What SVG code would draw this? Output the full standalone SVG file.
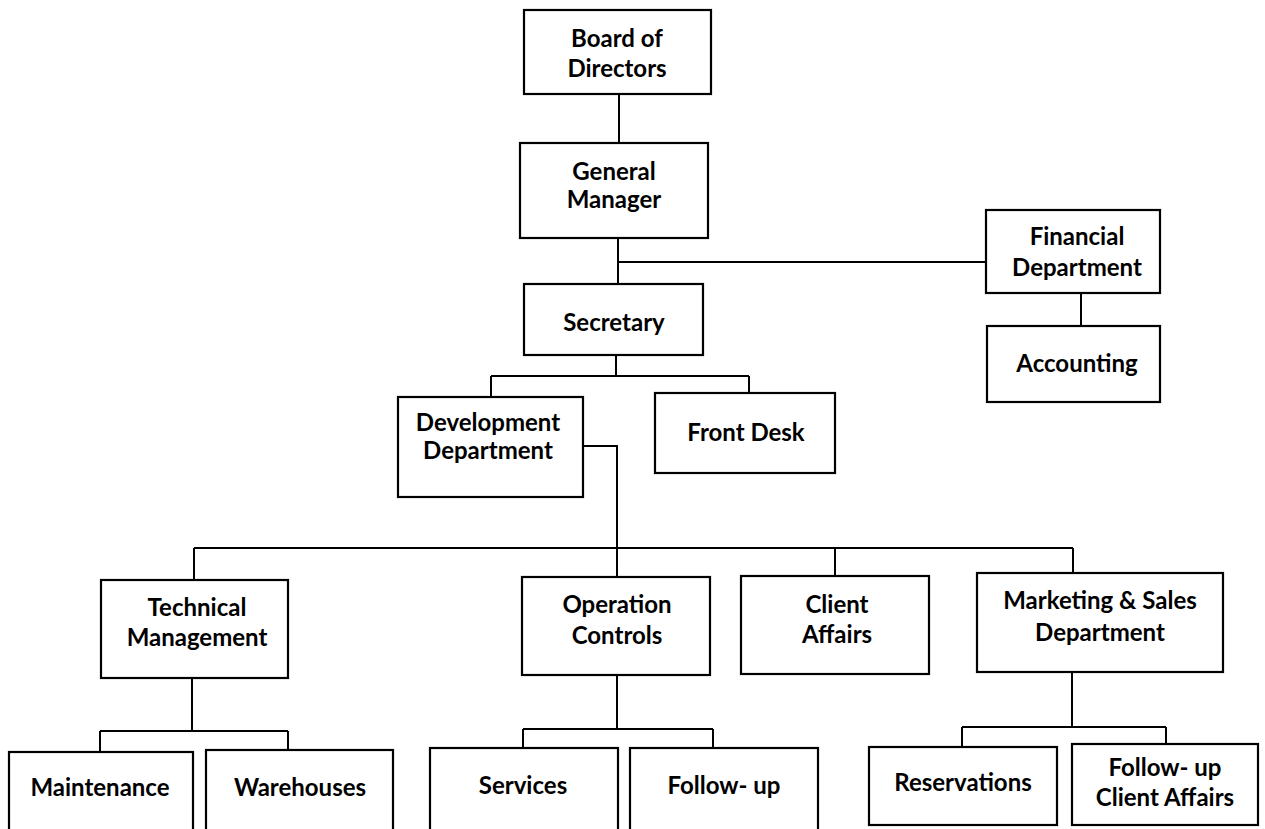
<svg xmlns="http://www.w3.org/2000/svg" width="1265" height="829" viewBox="0 0 1265 829">
<style>
.box{fill:#fff;stroke:#000;stroke-width:2.2}
.lbl{font-family:Lato,"Open Sans","Liberation Sans",sans-serif;font-weight:700;font-size:24px;fill:#000;text-anchor:middle}
.con{fill:none;stroke:#000;stroke-width:2}
</style>
<rect width="1265" height="829" fill="#fff"/>
<g id="connectors">
<path class="con" d="M619 94V143"/>
<path class="con" d="M618 238V284M618 262H986"/>
<path class="con" d="M1081 293V326"/>
<path class="con" d="M616 355V376M491 376H749M491 376V397M749 376V393"/>
<path class="con" d="M583 446H617V548M194 548H1073M194 548V580M617 548V577M835 548V576M1073 548V573"/>
<path class="con" d="M192 678V731M100 731H288M100 731V751M288 731V750"/>
<path class="con" d="M617 675V729M523 729H713M523 729V748M713 729V748"/>
<path class="con" d="M1072 672V727M962 727H1166M962 727V747M1166 727V744"/>
</g>
<g id="board"><rect class="box" x="524" y="10" width="187" height="84"/><text class="lbl" x="617" y="47">Board of</text><text class="lbl" x="617" y="77">Directors</text></g>
<g id="gm"><rect class="box" x="520" y="143" width="188" height="95"/><text class="lbl" x="614" y="180">General</text><text class="lbl" x="614" y="208">Manager</text></g>
<g id="financial"><rect class="box" x="986" y="210" width="174" height="83"/><text class="lbl" x="1077" y="245">Financial</text><text class="lbl" x="1077" y="276">Department</text></g>
<g id="accounting"><rect class="box" x="987" y="326" width="173" height="76"/><text class="lbl" x="1077" y="372">Accounting</text></g>
<g id="secretary"><rect class="box" x="524" y="284" width="179" height="71"/><text class="lbl" x="614" y="331">Secretary</text></g>
<g id="development"><rect class="box" x="398" y="397" width="185" height="100"/><text class="lbl" x="488" y="431">Development</text><text class="lbl" x="488" y="459">Department</text></g>
<g id="frontdesk"><rect class="box" x="655" y="393" width="180" height="80"/><text class="lbl" x="746" y="441">Front Desk</text></g>
<g id="technical"><rect class="box" x="101" y="580" width="187" height="98"/><text class="lbl" x="197" y="616">Technical</text><text class="lbl" x="197" y="646">Management</text></g>
<g id="operation"><rect class="box" x="522" y="577" width="188" height="98"/><text class="lbl" x="617" y="613">Operation</text><text class="lbl" x="617" y="644">Controls</text></g>
<g id="clientaffairs"><rect class="box" x="741" y="576" width="188" height="98"/><text class="lbl" x="837" y="613">Client</text><text class="lbl" x="837" y="643">Affairs</text></g>
<g id="marketing"><rect class="box" x="977" y="573" width="246" height="99"/><text class="lbl" x="1100" y="609">Marketing &amp; Sales</text><text class="lbl" x="1100" y="641">Department</text></g>
<g id="maintenance"><rect class="box" x="9" y="752" width="184" height="100"/><text class="lbl" x="100" y="796">Maintenance</text></g>
<g id="warehouses"><rect class="box" x="206" y="750" width="187" height="100"/><text class="lbl" x="300" y="796">Warehouses</text></g>
<g id="services"><rect class="box" x="430" y="748" width="188" height="100"/><text class="lbl" x="523" y="794">Services</text></g>
<g id="followup"><rect class="box" x="630" y="748" width="188" height="100"/><text class="lbl" x="724" y="794">Follow- up</text></g>
<g id="reservations"><rect class="box" x="869" y="747" width="188" height="78"/><text class="lbl" x="963" y="791">Reservations</text></g>
<g id="followupclient"><rect class="box" x="1072" y="744" width="186" height="81"/><text class="lbl" x="1165" y="776">Follow- up</text><text class="lbl" x="1165" y="806">Client Affairs</text></g>
</svg>
